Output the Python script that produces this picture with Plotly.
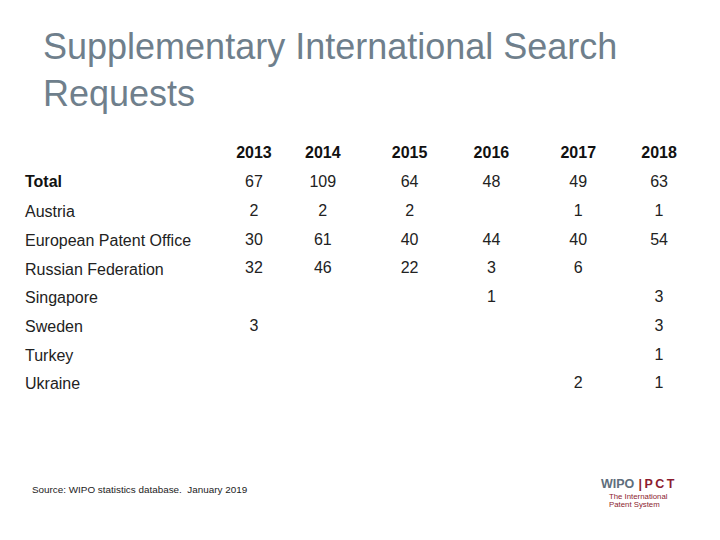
import plotly.graph_objects as go

years = ["2013", "2014", "2015", "2016", "2017", "2018"]
offices = ["Total", "Austria", "European Patent Office", "Russian Federation",
           "Singapore", "Sweden", "Turkey", "Ukraine"]

# requests per office, one list per year (None = no requests)
y2013 = [67, 2, 30, 32, None, 3, None, None]
y2014 = [109, 2, 61, 46, None, None, None, None]
y2015 = [64, 2, 40, 22, None, None, None, None]
y2016 = [48, None, 44, 3, 1, None, None, None]
y2017 = [49, 1, 40, 6, None, None, None, 2]
y2018 = [63, 1, 54, None, 3, 3, 1, 1]

FONT = "Liberation Sans, Arial, sans-serif"
TITLE_COLOR = "#6f7f8c"
RED = "#8c1d2f"
OFF = 8  # page body margin in the browser
ROW_H = 28.7
HEAD_H = 29.8
TOP = 129.5
BOTTOM = 432


def px_x(v):
    return (v - OFF) / 720


def px_y(v):
    return 1 - (v - OFF) / 540


def fmt(col):
    return ["" if v is None else str(v) for v in col]


def create_figure():
    fig = go.Figure()
    fig.update_layout(width=720, height=540, margin=dict(t=0, b=0, l=0, r=0),
                      paper_bgcolor="white", plot_bgcolor="white",
                      font=dict(family=FONT))
    return fig


def plot_table(fig):
    dom_y = [1 - BOTTOM / 540, 1 - TOP / 540]
    # label column: blank header + bold "Total" as a second header row
    fig.add_trace(go.Table(
        domain=dict(x=[9 / 720, 215 / 720], y=dom_y),
        header=dict(values=[["", offices[0]]], height=HEAD_H, align="left",
                    fill_color="white", line_color="white",
                    font=dict(family=FONT, size=16, color="#111111", weight=700)),
        cells=dict(values=[offices[1:]], height=ROW_H, align="left",
                   fill_color="white", line_color="white",
                   font=dict(family=FONT, size=16, color="#222222")),
    ))
    cols = [fmt(c) for c in (y2013, y2014, y2015, y2016, y2017, y2018)]
    fig.add_trace(go.Table(
        domain=dict(x=[215 / 720, 679 / 720], y=dom_y),
        columnwidth=[62, 76, 98, 66, 108, 54],
        header=dict(values=years, height=HEAD_H, align="center",
                    fill_color="white", line_color="white",
                    font=dict(family=FONT, size=16, color="#111111", weight=700)),
        cells=dict(values=cols, height=ROW_H, align="center",
                   fill_color="white", line_color="white",
                   font=dict(family=FONT, size=16, color="#222222")),
    ))


def touch_up(fig):
    fig.add_annotation(text="Supplementary International Search<br>Requests",
                       xref="paper", yref="paper", x=px_x(41), y=px_y(70),
                       xanchor="left", yanchor="middle", align="left", showarrow=False,
                       font=dict(family=FONT, size=36, color=TITLE_COLOR))
    fig.add_annotation(text="Source: WIPO statistics database.  January 2019",
                       xref="paper", yref="paper", x=px_x(30), y=px_y(489),
                       xanchor="left", yanchor="middle", showarrow=False,
                       font=dict(family=FONT, size=9.9, color="#222222"))
    fig.add_annotation(text="<b>WIPO</b>",
                       xref="paper", yref="paper", x=px_x(599), y=px_y(484),
                       xanchor="left", yanchor="middle", showarrow=False,
                       font=dict(family=FONT, size=12.5, color="#5e6e7c"))
    fig.add_annotation(text="<b>\u2009|\u2009P\u2009C\u2009T</b>",
                       xref="paper", yref="paper", x=px_x(634), y=px_y(484),
                       xanchor="left", yanchor="middle", showarrow=False,
                       font=dict(family=FONT, size=12.5, color=RED))
    fig.add_annotation(text="The International",
                       xref="paper", yref="paper", x=px_x(607), y=px_y(496),
                       xanchor="left", yanchor="middle", showarrow=False,
                       font=dict(family=FONT, size=7.8, color=RED))
    fig.add_annotation(text="Patent System",
                       xref="paper", yref="paper", x=px_x(607), y=px_y(504),
                       xanchor="left", yanchor="middle", showarrow=False,
                       font=dict(family=FONT, size=7.8, color=RED))


fig = create_figure()
plot_table(fig)
touch_up(fig)
fig.write_html("out.html")
